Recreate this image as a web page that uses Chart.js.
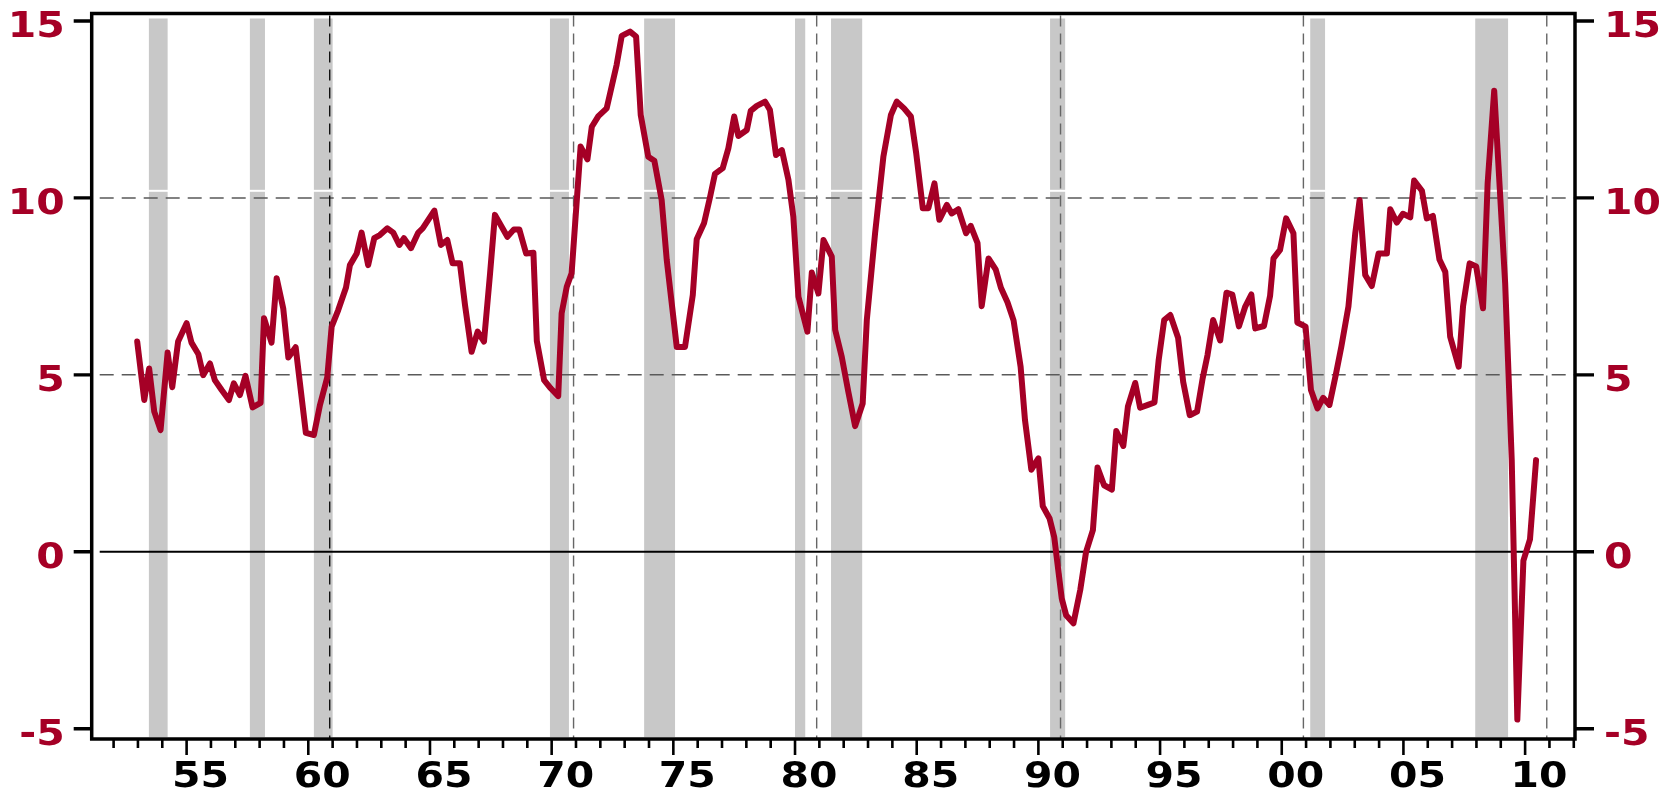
<!DOCTYPE html>
<html>
<head>
<meta charset="utf-8">
<script src="https://cdn.jsdelivr.net/npm/chart.js@4.4.1/dist/chart.umd.min.js"></script>
<style>
  html, body { margin: 0; padding: 0; background: #fff; }
</style>
</head>
<body>
<canvas id="grafica" width="1671" height="788"></canvas>
<script>
// fechas (año decimal) y valores de la serie
const years = [
  1952.97, 1953.26, 1953.46, 1953.67, 1953.93, 1954.22, 1954.41, 1954.65, 1955.00, 1955.20,
  1955.48, 1955.68, 1955.96, 1956.16, 1956.44, 1956.74, 1956.94, 1957.19, 1957.42, 1957.71,
  1958.04, 1958.18, 1958.49, 1958.70, 1958.97, 1959.18, 1959.48, 1959.90, 1960.23, 1960.48,
  1960.78, 1960.96, 1961.23, 1961.55, 1961.71, 1961.99, 1962.19, 1962.46, 1962.71, 1962.94,
  1963.25, 1963.49, 1963.74, 1963.93, 1964.22, 1964.52, 1964.70, 1965.18, 1965.45, 1965.71,
  1965.93, 1966.23, 1966.44, 1966.71, 1966.96, 1967.22, 1967.47, 1967.67, 1968.18, 1968.45,
  1968.67, 1968.95, 1969.25, 1969.39, 1969.69, 1969.96, 1970.27, 1970.41, 1970.62, 1970.82,
  1971.19, 1971.47, 1971.65, 1971.92, 1972.26, 1972.67, 1972.88, 1973.22, 1973.47, 1973.66,
  1973.97, 1974.22, 1974.52, 1974.73, 1975.14, 1975.48, 1975.80, 1975.96, 1976.26, 1976.51,
  1976.71, 1977.03, 1977.26, 1977.50, 1977.67, 1978.02, 1978.18, 1978.43, 1978.77, 1978.97,
  1979.22, 1979.46, 1979.73, 1979.93, 1980.14, 1980.51, 1980.69, 1980.96, 1981.17, 1981.51,
  1981.65, 1981.92, 1982.19, 1982.47, 1982.78, 1982.95, 1983.29, 1983.63, 1983.94, 1984.18,
  1984.48, 1984.76, 1984.98, 1985.25, 1985.48, 1985.73, 1985.93, 1986.24, 1986.44, 1986.71,
  1987.03, 1987.22, 1987.50, 1987.67, 1987.95, 1988.25, 1988.46, 1988.73, 1988.98, 1989.27,
  1989.45, 1989.71, 1990.00, 1990.18, 1990.46, 1990.65, 1990.96, 1991.14, 1991.44, 1991.72,
  1991.96, 1992.24, 1992.43, 1992.70, 1993.02, 1993.20, 1993.49, 1993.68, 1993.98, 1994.18,
  1994.50, 1994.77, 1994.94, 1995.17, 1995.42, 1995.74, 1995.95, 1996.22, 1996.52, 1996.75,
  1996.95, 1997.18, 1997.47, 1997.73, 1997.97, 1998.24, 1998.50, 1998.75, 1998.91, 1999.27,
  1999.52, 1999.66, 1999.93, 2000.18, 2000.48, 2000.64, 2000.98, 2001.20, 2001.47, 2001.70,
  2001.96, 2002.22, 2002.45, 2002.74, 2003.02, 2003.20, 2003.43, 2003.70, 2003.98, 2004.32,
  2004.46, 2004.73, 2004.98, 2005.28, 2005.44, 2005.76, 2005.96, 2006.21, 2006.48, 2006.72,
  2006.92, 2007.27, 2007.45, 2007.72, 2007.99, 2008.27, 2008.46, 2008.73, 2009.18, 2009.45,
  2009.68, 2009.93, 2010.20, 2010.45
];
const values = [
  5.94, 4.29, 5.18, 3.96, 3.44, 5.63, 4.65, 5.94, 6.46, 5.91,
  5.59, 4.99, 5.32, 4.85, 4.57, 4.29, 4.76, 4.43, 4.97, 4.08,
  4.21, 6.60, 5.91, 7.73, 6.88, 5.49, 5.78, 3.36, 3.30, 4.15,
  4.93, 6.36, 6.83, 7.47, 8.10, 8.43, 9.02, 8.10, 8.86, 8.95,
  9.14, 9.02, 8.67, 8.86, 8.58, 9.02, 9.14, 9.64, 8.67, 8.81,
  8.15, 8.15, 6.97, 5.65, 6.22, 5.94, 7.87, 9.52, 8.90, 9.11,
  9.11, 8.43, 8.45, 5.96, 4.85, 4.62, 4.40, 6.74, 7.49, 7.87,
  11.45, 11.09, 12.01, 12.31, 12.53, 13.76, 14.58, 14.70, 14.56, 12.34,
  11.16, 11.05, 9.94, 8.24, 5.79, 5.79, 7.26, 8.83, 9.28, 10.03,
  10.68, 10.84, 11.40, 12.30, 11.75, 11.92, 12.46, 12.60, 12.72, 12.48,
  11.21, 11.35, 10.51, 9.47, 7.21, 6.22, 7.89, 7.30, 8.81, 8.34,
  6.27, 5.51, 4.52, 3.55, 4.19, 6.55, 9.00, 11.16, 12.34, 12.72,
  12.53, 12.30, 11.26, 9.71, 9.71, 10.41, 9.38, 9.80, 9.56, 9.68,
  9.00, 9.21, 8.72, 6.94, 8.29, 7.97, 7.46, 7.05, 6.54, 5.23,
  3.72, 2.32, 2.64, 1.29, 0.94, 0.42, -1.32, -1.79, -2.02, -1.08,
  0.00, 0.61, 2.38, 1.88, 1.76, 3.41, 2.99, 4.11, 4.77, 4.07,
  4.15, 4.22, 5.40, 6.55, 6.69, 6.05, 4.80, 3.86, 3.96, 4.90,
  5.56, 6.55, 5.97, 7.32, 7.27, 6.37, 6.93, 7.27, 6.31, 6.38,
  7.23, 8.29, 8.53, 9.42, 9.00, 6.48, 6.36, 4.57, 4.05, 4.35,
  4.15, 5.00, 5.80, 6.93, 9.00, 9.94, 7.82, 7.51, 8.43, 8.43,
  9.68, 9.30, 9.55, 9.45, 10.49, 10.20, 9.42, 9.49, 8.26, 7.91,
  6.08, 5.23, 6.94, 8.15, 8.06, 6.88, 10.41, 13.03, 7.59, 2.60,
  -4.74, -0.25, 0.35, 2.59
];
// recesiones (inicio, fin) en años decimales
const recessions = [
  [1953.45, 1954.22], [1957.60, 1958.22], [1960.23, 1961.00], [1969.93, 1970.71],
  [1973.80, 1975.07], [1980.00, 1980.42], [1981.48, 1982.76], [1990.48, 1991.10],
  [2001.17, 2001.78], [2007.95, 2009.30]
];
const decadeLines = [1960.88, 1970.90, 1980.89, 1990.91, 2000.89, 2010.89];
const dashedLevels = [5, 10];
const yTicks = [-5, 0, 5, 10, 15];

const rojo = "#a50026";
const barBreak = 10.2;
const fuente = 'bold 35px "DejaVu Sans"';
const estirar = 1.17; // las etiquetas del original son más anchas

function texto(ctx, str, x, y, align, color) {
  ctx.save();
  ctx.translate(x, y);
  ctx.scale(estirar, 1);
  ctx.font = fuente;
  ctx.fillStyle = color;
  ctx.textAlign = align;
  ctx.textBaseline = "alphabetic";
  ctx.fillText(str, 0, 0);
  ctx.restore();
}

const marcas = {
  id: "marcas",
  beforeDatasetsDraw(chart) {
    const { ctx, chartArea: a, scales: { x, y } } = chart;
    ctx.save();
    // franjas grises
    ctx.fillStyle = "#c8c8c8";
    const top = a.top + 5;
    const bottom = a.bottom - 2;
    const cut = y.getPixelForValue(barBreak);
    recessions.forEach(([s, e]) => {
      const x0 = x.getPixelForValue(s);
      const x1 = x.getPixelForValue(e);
      ctx.fillRect(x0, top, x1 - x0, cut - 1 - top);
      ctx.fillRect(x0, cut + 1, x1 - x0, bottom - cut - 1);
    });
    // lineas punteadas horizontales
    ctx.strokeStyle = "#5a5a5a";
    ctx.lineWidth = 1.5;
    ctx.setLineDash([14, 8]);
    dashedLevels.forEach((v) => {
      const py = y.getPixelForValue(v);
      ctx.beginPath();
      ctx.moveTo(a.left + 8, py);
      ctx.lineTo(a.right, py);
      ctx.stroke();
    });
    // lineas punteadas verticales (la primera sale negra en el original)
    ctx.lineWidth = 1.4;
    ctx.setLineDash([11, 7]);
    decadeLines.forEach((d, i) => {
      const px = x.getPixelForValue(d);
      ctx.strokeStyle = i === 0 ? "#111" : "#666";
      ctx.beginPath();
      ctx.moveTo(px, a.top + 2);
      ctx.lineTo(px, a.bottom);
      ctx.stroke();
    });
    // linea del cero
    ctx.setLineDash([]);
    ctx.strokeStyle = "#000";
    ctx.lineWidth = 2;
    const p0 = y.getPixelForValue(0);
    ctx.beginPath();
    ctx.moveTo(a.left + 8, p0);
    ctx.lineTo(a.right, p0);
    ctx.stroke();
    ctx.restore();
  },
  afterDraw(chart) {
    const { ctx, chartArea: a, scales: { x, y } } = chart;
    ctx.save();
    ctx.strokeStyle = "#000";
    // marco
    ctx.lineWidth = 3.5;
    ctx.strokeRect(a.left, a.top, a.right - a.left, a.bottom - a.top);
    // marcas y etiquetas del eje x
    ctx.lineWidth = 2.6;
    x.ticks.forEach((t) => {
      const px = x.getPixelForValue(t.value);
      const major = t.value % 5 === 0;
      ctx.beginPath();
      ctx.moveTo(px, a.bottom);
      ctx.lineTo(px, a.bottom + (major ? 16 : 9));
      ctx.stroke();
      if (major) {
        const lbl = String(t.value % 100).padStart(2, "0");
        texto(ctx, lbl, px + 14, a.bottom + 48, "center", "#000");
      }
    });
    // marcas y etiquetas de los ejes y
    ctx.lineWidth = 3.4;
    yTicks.forEach((v) => {
      const py = y.getPixelForValue(v);
      ctx.beginPath();
      ctx.moveTo(a.left - 18, py);
      ctx.lineTo(a.left, py);
      ctx.moveTo(a.right, py);
      ctx.lineTo(a.right + 19, py);
      ctx.stroke();
      texto(ctx, String(v), a.left - 27, py + 16.5, "right", rojo);
      texto(ctx, String(v), a.right + 29, py + 16.5, "left", rojo);
    });
    ctx.restore();
  }
};

const sinMargen = (size, key) => (scale) => {
  scale[key] = size;
  scale.paddingTop = 0;
  scale.paddingBottom = 0;
  scale.paddingLeft = 0;
  scale.paddingRight = 0;
};

const yAxis = (pos, width) => ({
  type: "linear",
  position: pos,
  min: -5.29,
  max: 15.21,
  grid: { display: false, drawTicks: false },
  border: { display: false },
  ticks: { display: false, stepSize: 5, includeBounds: false },
  afterFit: sinMargen(width, "width")
});

new Chart(document.getElementById("grafica"), {
  type: "line",
  data: {
    datasets: [
      {
        data: years.map((yr, i) => ({ x: yr, y: values[i] })),
        borderColor: rojo,
        borderWidth: 6,
        pointRadius: 0,
        tension: 0,
        borderJoinStyle: "round",
        borderCapStyle: "round",
        yAxisID: "y"
      }
    ]
  },
  options: {
    responsive: false,
    animation: false,
    layout: { padding: { top: 13.5, left: 0, right: 0, bottom: 0 } },
    plugins: {
      legend: { display: false },
      tooltip: { enabled: false }
    },
    scales: {
      x: {
        type: "linear",
        position: "bottom",
        min: 1951.1,
        max: 2012.05,
        grid: { display: false, drawTicks: false },
        border: { display: false },
        ticks: { display: false, stepSize: 1, includeBounds: false, autoSkip: false },
        afterFit: sinMargen(49, "height")
      },
      y: yAxis("left", 91.7),
      y2: yAxis("right", 96)
    }
  },
  plugins: [marcas]
});
</script>
</body>
</html>
